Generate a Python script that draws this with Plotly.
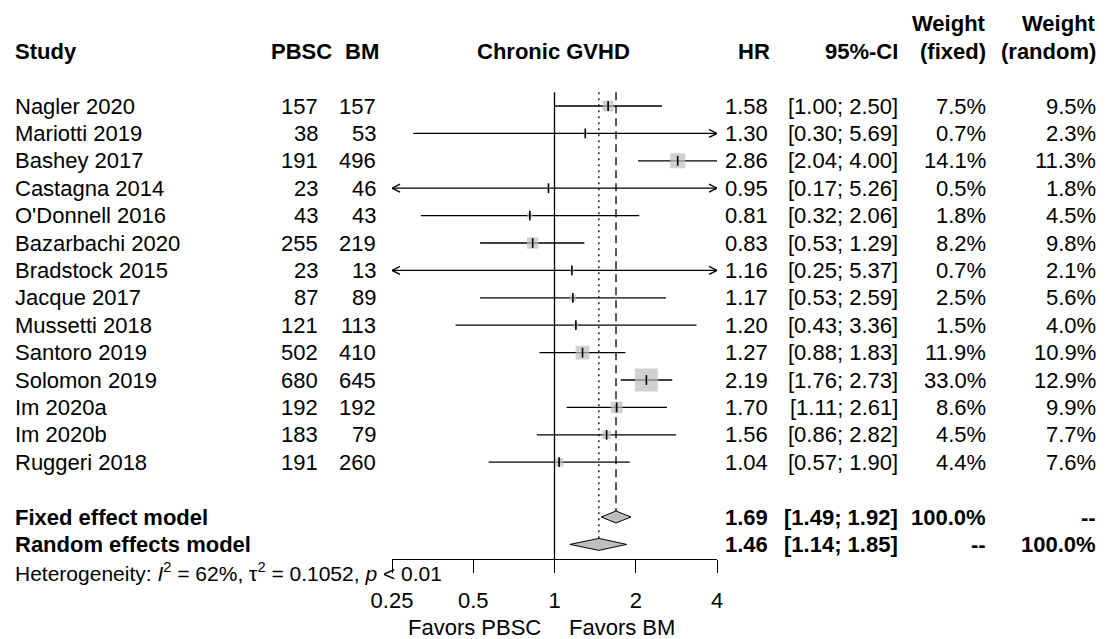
import math
import plotly.graph_objects as go

# ---------------- data ----------------
studies = ["Nagler 2020", "Mariotti 2019", "Bashey 2017", "Castagna 2014", "O'Donnell 2016",
           "Bazarbachi 2020", "Bradstock 2015", "Jacque 2017", "Mussetti 2018", "Santoro 2019",
           "Solomon 2019", "Im 2020a", "Im 2020b", "Ruggeri 2018"]
n_pbsc = [157, 38, 191, 23, 43, 255, 23, 87, 121, 502, 680, 192, 183, 191]
n_bm = [157, 53, 496, 46, 43, 219, 13, 89, 113, 410, 645, 192, 79, 260]
hr = [1.58, 1.30, 2.86, 0.95, 0.81, 0.83, 1.16, 1.17, 1.20, 1.27, 2.19, 1.70, 1.56, 1.04]
ci_lo = [1.00, 0.30, 2.04, 0.17, 0.32, 0.53, 0.25, 0.53, 0.43, 0.88, 1.76, 1.11, 0.86, 0.57]
ci_hi = [2.50, 5.69, 4.00, 5.26, 2.06, 1.29, 5.37, 2.59, 3.36, 1.83, 2.73, 2.61, 2.82, 1.90]
w_fixed = [7.5, 0.7, 14.1, 0.5, 1.8, 8.2, 0.7, 2.5, 1.5, 11.9, 33.0, 8.6, 4.5, 4.4]
w_random = [9.5, 2.3, 11.3, 1.8, 4.5, 9.8, 2.1, 5.6, 4.0, 10.9, 12.9, 9.9, 7.7, 7.6]

model_names = ["Fixed effect model", "Random effects model"]
model_hr = [1.69, 1.46]
model_lo = [1.49, 1.14]
model_hi = [1.92, 1.85]
model_wf = ["100.0%", "--"]
model_wr = ["--", "100.0%"]

tick_vals = [0.25, 0.5, 1, 2, 4]
tick_text = ["0.25", "0.5", "1", "2", "4"]
het_text = "Heterogeneity: <i>I</i><sup>2</sup> = 62%, τ<sup>2</sup> = 0.1052, <i>p</i> &lt; 0.01"

# ---------------- layout constants (reference pixels) ----------------
W, H = 1106, 639
OFF = 8                      # page body margin offset of the figure
X0_PX, X1_PX = 392, 717
XMIN, XMAX = 0.25, 4
ROW0_PX, ROW_H = 106, 27.4
AXIS_PX = 559.3
FONT = "Liberation Sans, Arial, sans-serif"
FS = 22
GREY = "#bebebe"

r0 = ROW0_PX - OFF
row_top = -r0 / ROW_H
row_bot = (H - r0) / ROW_H
axis_row = (AXIS_PX - ROW0_PX) / ROW_H
px_per_log10 = (X1_PX - X0_PX) / (math.log10(XMAX) - math.log10(XMIN))


def px_x(px):
    return (px - OFF) / W


def shift_x(val, dpx):
    return val * 10 ** (dpx / px_per_log10)


fig = go.Figure()

# reference lines
dh = 6 / ROW_H
fig.add_trace(go.Scatter(x=[1, 1], y=[-0.5, axis_row], mode="lines",
                         line=dict(color="black", width=1.3), hoverinfo="skip", cliponaxis=False))
fig.add_trace(go.Scatter(x=[model_hr[0], model_hr[0]], y=[-0.5, 15 - dh], mode="lines",
                         line=dict(color="black", width=1.3, dash="8px,5px"), hoverinfo="skip"))
fig.add_trace(go.Scatter(x=[model_hr[1], model_hr[1]], y=[-0.5, 16 - dh], mode="lines",
                         line=dict(color="black", width=1.3, dash="2px,4px"), hoverinfo="skip"))

# CI lines + arrows
xs, ys = [], []
aw = 4 / ROW_H
for i in range(len(studies)):
    a = max(ci_lo[i], XMIN)
    b = min(ci_hi[i], XMAX)
    xs += [a, b, None]
    ys += [i, i, None]
    if ci_hi[i] > XMAX:
        wx = shift_x(XMAX, -8)
        xs += [wx, XMAX, wx, None]
        ys += [i - aw, i, i + aw, None]
    if ci_lo[i] <= XMIN:
        wx = shift_x(XMIN, 8)
        xs += [wx, XMIN, wx, None]
        ys += [i - aw, i, i + aw, None]
fig.add_trace(go.Scatter(x=xs, y=ys, mode="lines", line=dict(color="black", width=1.3),
                         hoverinfo="skip", cliponaxis=False))

# squares
rows = list(range(len(studies)))
sizes = [23 * math.sqrt(w / max(w_fixed)) for w in w_fixed]
fig.add_trace(go.Scatter(x=hr, y=rows, mode="markers",
                         marker=dict(symbol="square", size=sizes, color=GREY, line=dict(width=0)),
                         hoverinfo="skip", cliponaxis=False))
fig.add_trace(go.Scatter(x=hr, y=rows, mode="markers",
                         marker=dict(symbol="line-ns", size=7, line=dict(color="black", width=1.6)),
                         hoverinfo="skip", cliponaxis=False))

# diamonds
for k in range(2):
    r = 15 + k
    fig.add_trace(go.Scatter(
        x=[model_lo[k], model_hr[k], model_hi[k], model_hr[k], model_lo[k]],
        y=[r, r - dh, r, r + dh, r], mode="lines", fill="toself", fillcolor=GREY,
        line=dict(color="black", width=1), hoverinfo="skip"))

# ---------------- text ----------------
ann = []


def txt(xpx, row, s, anchor, bold=False, size=FS):
    if bold:
        s = "<b>" + s + "</b>"
    ann.append(dict(x=px_x(xpx), xref="paper", y=row, yref="y", text=s, showarrow=False,
                    xanchor=anchor, yanchor="middle", font=dict(family=FONT, size=size, color="black")))


# headers
txt(13, -2, "Study", "left", True)
txt(301, -2, "PBSC", "center", True)
txt(361.5, -2, "BM", "center", True)
txt(553, -2, "Chronic GVHD", "center", True)
txt(772, -2, "HR", "right", True)
txt(900, -2, "95%-CI", "right", True)
txt(988, -3, "Weight", "right", True)
txt(988, -2, "(fixed)", "right", True)
txt(1098, -3, "Weight", "right", True)
txt(1098, -2, "(random)", "right", True)

for i, s in enumerate(studies):
    txt(13, i, s, "left")
    txt(320, i, str(n_pbsc[i]), "right")
    txt(378, i, str(n_bm[i]), "right")
    txt(770, i, f"{hr[i]:.2f}", "right")
    txt(900, i, f"[{ci_lo[i]:.2f}; {ci_hi[i]:.2f}]", "right")
    txt(988, i, f"{w_fixed[i]:.1f}%", "right")
    txt(1098, i, f"{w_random[i]:.1f}%", "right")

for k in range(2):
    r = 15 + k
    txt(13, r, model_names[k], "left", True)
    txt(770, r, f"{model_hr[k]:.2f}", "right", True)
    txt(900, r, f"[{model_lo[k]:.2f}; {model_hi[k]:.2f}]", "right", True)
    txt(988, r, model_wf[k], "right", True)
    txt(1098, r, model_wr[k], "right", True)

txt(13, 17, het_text, "left", False, 21)
fav_row = (627 - ROW0_PX) / ROW_H
txt(543, fav_row, "Favors PBSC", "right")
txt(567, fav_row, "Favors BM", "left")

fig.update_layout(
    width=W, height=H, margin=dict(l=0, r=0, t=0, b=0, pad=0, autoexpand=False),
    paper_bgcolor="white", plot_bgcolor="white", showlegend=False,
    annotations=ann,
    xaxis=dict(type="log", range=[math.log10(XMIN), math.log10(XMAX)],
               domain=[px_x(X0_PX), px_x(X1_PX)], anchor="free", position=1 - (AXIS_PX - OFF) / H,
               automargin=False,
               showline=True, linecolor="black", linewidth=1.3, ticks="outside", ticklen=13,
               tickwidth=1.3, tickcolor="black", tickvals=tick_vals, ticktext=tick_text,
               tickfont=dict(family=FONT, size=FS, color="black"), ticklabelstandoff=8,
               showgrid=False, zeroline=False),
    yaxis=dict(range=[row_bot, row_top], domain=[0, 1], visible=False, showgrid=False,
               zeroline=False, automargin=False),
)

fig.write_html("out.html")
